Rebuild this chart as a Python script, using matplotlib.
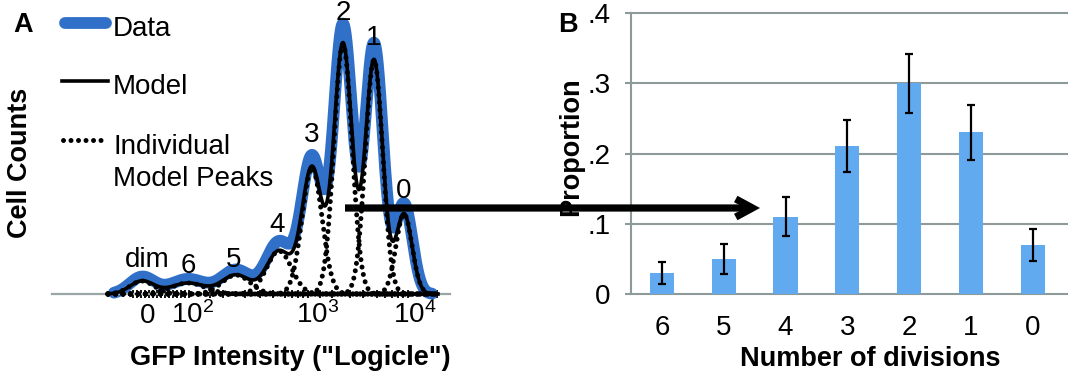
import numpy as np
import matplotlib
matplotlib.use("Agg")
import matplotlib.pyplot as plt
from matplotlib.patches import FancyArrowPatch, ArrowStyle
from matplotlib.lines import Line2D

plt.rcParams['font.family'] = ['Liberation Sans', 'DejaVu Sans']
plt.rcParams['mathtext.fontset'] = 'custom'
plt.rcParams['mathtext.rm'] = 'Liberation Sans'
plt.rcParams['mathtext.it'] = 'Liberation Sans:italic'
plt.rcParams['mathtext.bf'] = 'Liberation Sans:bold'
plt.rcParams['mathtext.default'] = 'regular'

# ---------------- Panel A data (Logicle display channel units) ----------------
peak_names = ['dim', '6', '5', '4', '3', '2', '1', '0']
peak_centers = [142, 188, 236, 279, 312, 343, 374, 404]
model_heights = [13, 11, 19, 43, 126, 250, 234, 80]
data_heights = [17, 15, 24, 52, 136, 268, 250, 90]
peak_widths = [12, 17, 14, 12.5, 10, 9, 8.7, 8]
label_x = [147, 188, 234, 277, 312, 343, 374, 404]
label_y = [27, 21, 27, 62, 152, 274, 249, 96]
minor_tick_pos = [133, 137, 141, 145, 149, 153, 157, 161, 165, 169, 173, 177,
                  181, 185, 189, 210, 223, 245, 260, 273, 285, 292, 298, 303,
                  308, 320, 332, 350, 363, 377, 385, 392, 398, 403, 408, 427, 437]
major_tick_pos = [148, 193, 318, 415]
major_tick_labels = ['0', '$10^{2}$', '$10^{3}$', '$10^{4}$']

# ---------------- Panel B data ----------------
divisions = ['6', '5', '4', '3', '2', '1', '0']
proportions = [0.03, 0.05, 0.11, 0.21, 0.30, 0.23, 0.07]
prop_errors = [0.016, 0.021, 0.028, 0.037, 0.042, 0.039, 0.023]
ytick_vals = [0, 0.1, 0.2, 0.3, 0.4]
ytick_labels = ['0', '.1', '.2', '.3', '.4']

W, H = 1068, 381
def fx(p):
    return p / W
def fy(p):
    return 1 - p / H

BLUE = '#3070C8'
BAR = '#62AAF0'
GRAY = '#9AA6A6'
FS = 20
FSB = 19.5
DOTS = (0, (0.001, 1.5))

fig = plt.figure(figsize=(W / 100, H / 100), dpi=100)

# ---------------- Panel A ----------------
axA = fig.add_axes([fx(52), 87 / H, 398 / W, 279 / H])
axA.set_xlim(52, 450)
axA.set_ylim(0, 279)

xs = np.linspace(108, 438, 2500)
xd = np.linspace(114, 432, 2500)

def gauss(x, c, h, s):
    return h * np.exp(-0.5 * ((x - c) / s) ** 2)

components = [gauss(xs, c, h, s) for c, h, s in zip(peak_centers, model_heights, peak_widths)]
model = np.sum(components, axis=0)
data = np.sum([gauss(xd, c, h, s + 0.4) for c, h, s in zip(peak_centers, data_heights, peak_widths)], axis=0)

axA.plot(xd, data, color=BLUE, lw=8.5, solid_capstyle='round', clip_on=False, zorder=2)
axA.plot(xs, model, color='black', lw=2.6, clip_on=False, zorder=3)
for comp in components:
    axA.plot(xs, comp, color='black', lw=3.6, linestyle=DOTS,
             dash_capstyle='round', clip_on=False, zorder=4)

for name, lx, ly in zip(peak_names, label_x, label_y):
    axA.text(lx, ly, name, ha='center', va='baseline', fontsize=FS, zorder=6)

for s in ['top', 'right', 'left']:
    axA.spines[s].set_visible(False)
axA.spines['bottom'].set_color(GRAY)
axA.spines['bottom'].set_linewidth(1.6)
axA.set_yticks([])
axA.set_xticks(major_tick_pos)
axA.set_xticklabels(major_tick_labels, fontsize=FS)
axA.set_xticks(minor_tick_pos, minor=True)
axA.tick_params(axis='x', which='major', length=0, pad=21)
axA.tick_params(axis='x', which='minor', direction='inout', length=5.5, width=1.3, color='black')
for lbl in axA.get_xticklabels():
    lbl.set_verticalalignment('baseline')
axA.patch.set_alpha(0)

# legend keys (figure coords)
fig.add_artist(Line2D([fx(65), fx(106)], [fy(23), fy(23)], color=BLUE, lw=8.5, solid_capstyle='round'))
fig.add_artist(Line2D([fx(62), fx(108)], [fy(81), fy(81)], color='black', lw=2.6))
fig.add_artist(Line2D([fx(63), fx(107)], [fy(140), fy(140)], color='black', lw=3.6,
                      linestyle=DOTS, dash_capstyle='round'))
fig.text(fx(113), fy(36), 'Data', fontsize=FS, va='baseline', ha='left')
fig.text(fx(113), fy(94), 'Model', fontsize=FS, va='baseline', ha='left')
fig.text(fx(113), fy(154), 'Individual', fontsize=FS, va='baseline', ha='left')
fig.text(fx(113), fy(186), 'Model Peaks', fontsize=FS, va='baseline', ha='left')

fig.text(fx(23), fy(32), 'A', fontsize=FSB, fontweight='bold', ha='center', va='baseline')
fig.text(fx(20), fy(163), 'Cell Counts', fontsize=FSB, fontweight='bold', rotation=90,
         ha='center', va='center')
fig.text(fx(290), fy(365), 'GFP Intensity ("Logicle")', fontsize=FSB, fontweight='bold',
         ha='center', va='baseline')

# ---------------- Panel B ----------------
axB = fig.add_axes([fx(631), 87 / H, 437 / W, 281 / H])
xpos = np.arange(len(divisions))
axB.bar(xpos, proportions, width=0.39, color=BAR, zorder=2)
axB.errorbar(xpos, proportions, yerr=prop_errors, fmt='none', ecolor='black',
             elinewidth=1.6, capsize=3, capthick=1.6, zorder=3)
axB.set_xlim(-0.5, 6.57)
axB.set_ylim(0, 0.4)
axB.set_yticks(ytick_vals)
axB.set_yticklabels(ytick_labels, fontsize=FS)
axB.set_xticks(xpos)
axB.set_xticklabels(divisions, fontsize=FS)
axB.tick_params(axis='y', length=4.3, width=1.5, color='#8E9999', pad=10.5)
axB.tick_params(axis='x', length=0, pad=29.5)
for lbl in axB.get_xticklabels():
    lbl.set_verticalalignment('baseline')
axB.yaxis.grid(True, color='#8E9999', lw=1.5)
axB.set_axisbelow(True)
for gl in axB.get_ygridlines():
    gl.set_clip_on(False)
for s in ['top', 'right', 'bottom']:
    axB.spines[s].set_visible(False)
axB.spines['left'].set_color('#8E9999')
axB.spines['left'].set_linewidth(1.5)
axB.patch.set_alpha(0)

fig.text(fx(568), fy(32), 'B', fontsize=FSB, fontweight='bold', ha='center', va='baseline')
fig.text(fx(571), fy(147), 'Proportion', fontsize=FSB, fontweight='bold', rotation=90,
         ha='center', va='center')
fig.text(fx(870), fy(366), 'Number of divisions', fontsize=FSB, fontweight='bold',
         ha='center', va='baseline')

# ---------------- connecting arrow ----------------
arrow = FancyArrowPatch((fx(345), fy(208)), (fx(760), fy(208)), transform=fig.transFigure,
                        arrowstyle=ArrowStyle('->', head_length=12, head_width=6.5),
                        mutation_scale=1, lw=5.2, color='black', shrinkA=0, shrinkB=0,
                        capstyle='butt', joinstyle='miter', zorder=10)
fig.add_artist(arrow)

fig.savefig('out.png', dpi=100)
